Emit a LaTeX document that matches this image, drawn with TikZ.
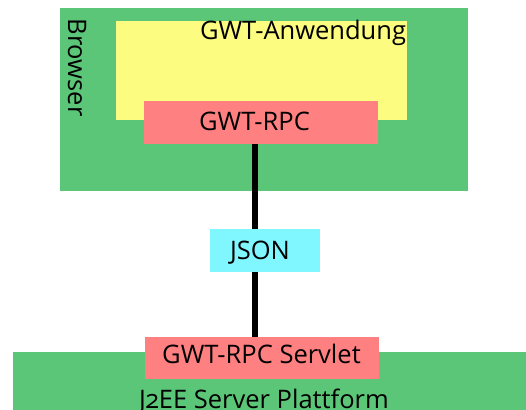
\documentclass[tikz,border=0pt]{standalone}
\usepackage{fontspec}
\setmainfont{Open Sans}
\definecolor{leaf}{HTML}{5CC678}
\definecolor{lemon}{HTML}{FCFC80}
\definecolor{salmon}{HTML}{FF8080}
\definecolor{sky}{HTML}{80F6FF}

\begin{document}
\begin{tikzpicture}[x=1pt,y=-1pt,font=\fontsize{25.5}{28}\selectfont,
  box/.style={inner sep=0pt,outer sep=0pt,anchor=center},
  lbl/.style={inner sep=0pt,anchor=base},
  link/.style={line width=6pt,black}]
  \useasboundingbox (0,0) rectangle (526,409);

  % browser side
  \node[box,fill=leaf,minimum width=408pt,minimum height=183pt] (browser) at (264,99.5) {};
  \node[lbl,rotate=-90] (browserlabel) at (68,67.5) {Browser};
  \node[box,fill=lemon,minimum width=291pt,minimum height=99pt] (app) at (261.5,70.5) {};
  \node[lbl] (applabel) at (303,40) {GWT-Anwendung};
  \node[box,fill=salmon,minimum width=234pt,minimum height=43pt] (rpc) at (261,122.5) {};
  \node[lbl] (rpclabel) at (254.5,130) {GWT-RPC};

  % transport
  \node[box,fill=sky,minimum width=110pt,minimum height=43pt] (json) at (265,250.5) {};
  \node[lbl] (jsonlabel) at (260,259) {JSON};

  % server side
  \node[box,fill=leaf,minimum width=513pt,minimum height=80pt] (server) at (269.5,392) {};
  \node[lbl] (serverlabel) at (264,408)
    {J{\addfontfeatures{Numbers=OldStyle}2}EE Server Plattform};
  \node[box,fill=salmon,minimum width=234pt,minimum height=42pt] (servlet) at (262,358) {};
  \node[lbl] (servletlabel) at (261.5,363) {GWT-RPC Servlet};

  \draw[link] (rpc.south -| 255,0) -- (json.north -| 255,0);
  \draw[link] (json.south -| 255,0) -- (servlet.north -| 255,0);
\end{tikzpicture}
\end{document}
